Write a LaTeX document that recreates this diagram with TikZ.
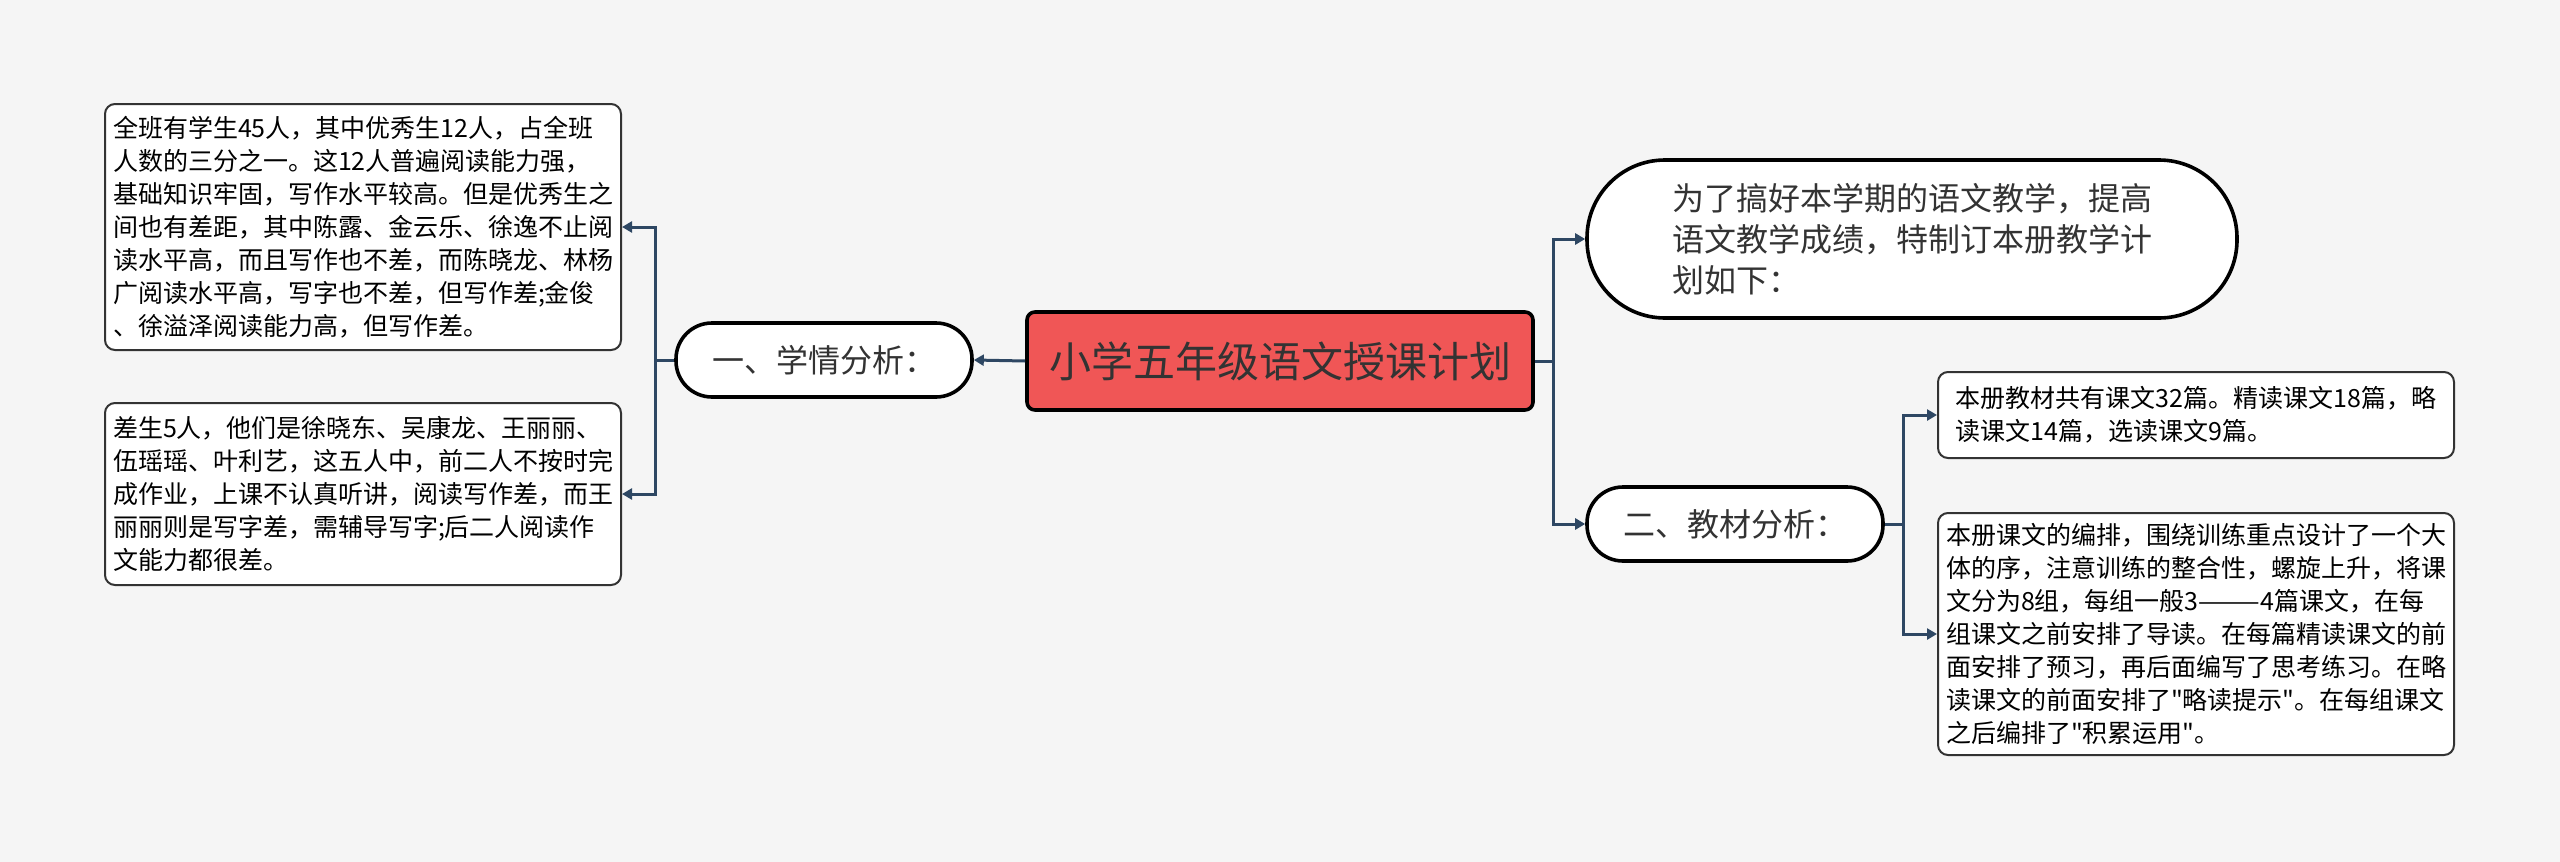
\documentclass[tikz,border=0pt]{standalone}
\usepackage{fontspec}
\newfontfamily\cjk{Noto Sans CJK SC}
\usetikzlibrary{arrows.meta,positioning}
\definecolor{bgcol}{HTML}{F5F5F5}
\definecolor{rootred}{HTML}{F05656}
\definecolor{linkcol}{HTML}{2E4763}
\definecolor{inkcol}{HTML}{333333}
\tikzset{
    link/.style={draw=linkcol, line width=1.5pt, -{Triangle[length=5pt,width=5.5pt]}},
    rootbox/.style={draw=black, fill=rootred, line width=1.8pt, rounded corners=4pt,
        text=inkcol, font=\cjk\fontsize{21}{26}\selectfont,
        minimum width=253pt, minimum height=49pt},
    pill/.style={draw=black, fill=white, line width=1.8pt, text=inkcol,
        font=\cjk\fontsize{16}{20.5}\selectfont, align=left},
    notebox/.style={draw=inkcol, fill=white, line width=1pt, rounded corners=5pt,
        text=black, font=\cjk\fontsize{12.5}{16.5}\selectfont, align=left,
        minimum width=258pt}
}
\begin{document}
\begin{tikzpicture}[x=0.5pt, y=-0.5pt]
    % 背景
    \fill[bgcol] (0,0) rectangle (2560,862);
    \useasboundingbox (0,0) rectangle (2560,862);

    % 中心主题
    \node[rootbox] (plan) at (1280,361) {小学五年级语文授课计划};

    % 左侧分支
    \node[pill, rounded corners=18pt, minimum width=148pt, minimum height=37pt]
        (xueqing) at (824,360) {一、学情分析：};
    \node[notebox, minimum height=123pt] (youxiu) at (363,227) {%
        全班有学生45人，其中优秀生12人，占全班\\
        人数的三分之一。这12人普遍阅读能力强，\\
        基础知识牢固，写作水平较高。但是优秀生之\\
        间也有差距，其中陈露、金云乐、徐逸不止阅\\
        读水平高，而且写作也不差，而陈晓龙、林杨\\
        广阅读水平高，写字也不差，但写作差;金俊\\
        、徐溢泽阅读能力高，但写作差。};
    \node[notebox, minimum height=91pt] (chasheng) at (363,494) {%
        差生5人，他们是徐晓东、吴康龙、王丽丽、\\
        伍瑶瑶、叶利艺，这五人中，前二人不按时完\\
        成作业，上课不认真听讲，阅读写作差，而王\\
        丽丽则是写字差，需辅导写字;后二人阅读作\\
        文能力都很差。};

    % 右侧分支
    \node[pill, rounded corners=39pt, minimum width=325pt, minimum height=79pt]
        (qianyan) at (1912,239) {%
        为了搞好本学期的语文教学，提高\\
        语文教学成绩，特制订本册教学计\\
        划如下：};
    \node[pill, rounded corners=18pt, minimum width=148pt, minimum height=37pt]
        (jiaocai) at (1735,524) {二、教材分析：};
    \node[notebox, minimum height=43pt] (kewen) at (2196,415) {%
        本册教材共有课文32篇。精读课文18篇，略\\
        读课文14篇，选读课文9篇。};
    \node[notebox, minimum height=121pt] (bianpai) at (2196,634) {%
        本册课文的编排，围绕训练重点设计了一个大\\
        体的序，注意训练的整合性，螺旋上升，将课\\
        文分为8组，每组一般3———4篇课文，在每\\
        组课文之前安排了导读。在每篇精读课文的前\\
        面安排了预习，再后面编写了思考练习。在略\\
        读课文的前面安排了"略读提示"。在每组课文\\
        之后编排了"积累运用"。};

    % 连线
    \draw[link] (plan.west) -- (xueqing.east);
    \draw[link] (xueqing.west) -- ++(-19,0) |- (youxiu.east);
    \draw[link] (xueqing.west) -- ++(-19,0) |- (chasheng.east);
    \draw[link] (plan.east) -- ++(19,0) |- (qianyan.west);
    \draw[link] (plan.east) -- ++(19,0) |- (jiaocai.west);
    \draw[link] (jiaocai.east) -- ++(19,0) |- (kewen.west);
    \draw[link] (jiaocai.east) -- ++(19,0) |- (bianpai.west);
\end{tikzpicture}
\end{document}
